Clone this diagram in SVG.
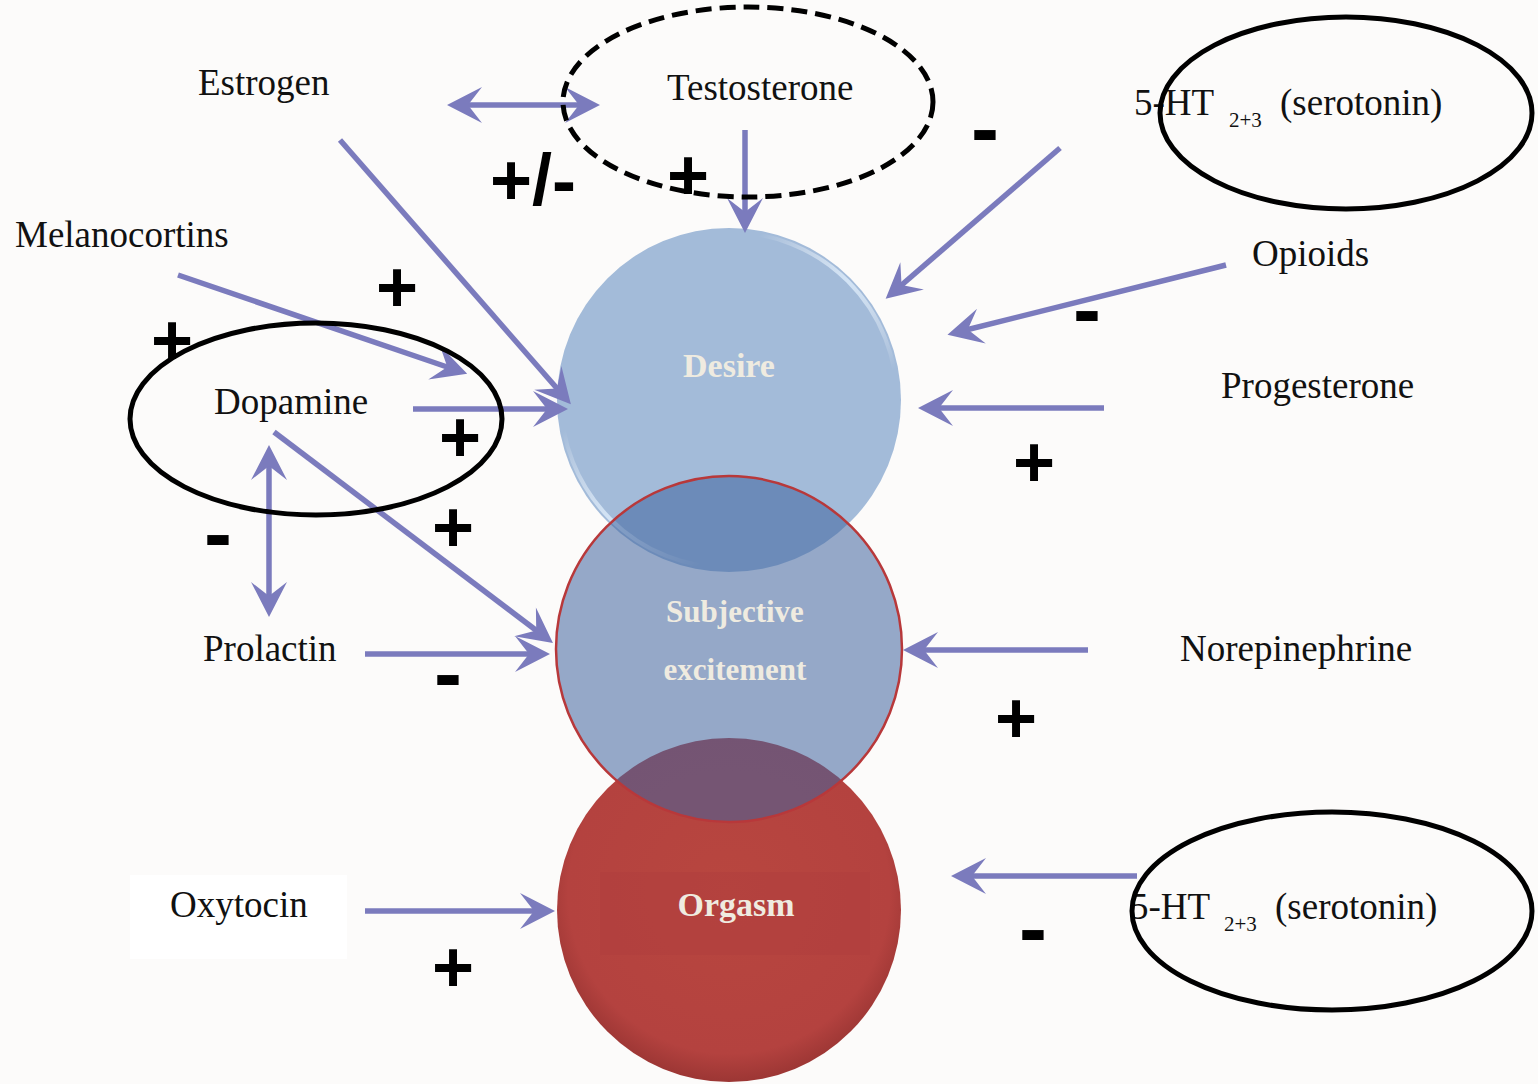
<svg xmlns="http://www.w3.org/2000/svg" width="1538" height="1084" viewBox="0 0 1538 1084">
<style>
.lbl{font-family:"Liberation Serif","DejaVu Serif",serif;font-size:37px;fill:#111}
.sub{font-family:"Liberation Serif","DejaVu Serif",serif;font-size:21px;fill:#111}
.cl{font-family:"Liberation Serif","DejaVu Serif",serif;font-weight:bold;fill:#efebe0;text-anchor:middle}
.plus{font-family:"Liberation Sans","Arial",sans-serif;font-weight:bold;font-size:72px;fill:#000;text-anchor:middle}
.minus{font-family:"Liberation Sans","Arial",sans-serif;font-weight:bold;font-size:84px;fill:#000;text-anchor:middle}
.ell{fill:none;stroke:#000;stroke-width:5}
.con line{stroke:#7b7bbd;stroke-width:5.5;fill:none;marker-end:url(#ah)}
.con line.dbl{marker-start:url(#ah)}
</style>
<defs>
<marker id="ah" markerUnits="userSpaceOnUse" viewBox="-25 -20 45 40" refX="0" refY="0" markerWidth="45" markerHeight="40" orient="auto-start-reverse">
<path d="M15,0 L-20,-18 L-6,0 L-20,18 Z" fill="#7b7bbd"/>
</marker>
<radialGradient id="gOrg" cx="0.5" cy="0.45" r="0.55">
<stop offset="0" stop-color="#b8463f"/>
<stop offset="0.85" stop-color="#b4423f"/>
<stop offset="1" stop-color="#9c3634"/>
</radialGradient>
<linearGradient id="gRim" x1="0" y1="0" x2="1" y2="1">
<stop offset="0.3" stop-color="#ffffff" stop-opacity="0"/>
<stop offset="0.5" stop-color="#d8e8f8" stop-opacity="0.9"/>
<stop offset="0.7" stop-color="#ffffff" stop-opacity="0"/>
</linearGradient>
</defs>
<rect x="0" y="0" width="1538" height="1084" fill="#fcfbfa"/>

<g id="desire">
<circle cx="729" cy="400" r="172" fill="#a3bbd9"/>
<circle cx="729" cy="400" r="168" fill="none" stroke="url(#gRim)" stroke-width="4"/>
<text class="cl" x="729" y="377" font-size="34">Desire</text>
</g>

<g id="orgasm">
<circle cx="729" cy="910" r="172" fill="url(#gOrg)"/>
<rect x="600" y="872" width="270" height="83" fill="#b0403d" opacity="0.6"/>
<text class="cl" x="736" y="916" font-size="34">Orgasm</text>
</g>

<g id="subjective">
<circle cx="729" cy="649" r="173" fill="#3f659f" fill-opacity="0.55" stroke="#b8383a" stroke-width="2.5"/>
<text class="cl" x="735" y="622" font-size="31">Subjective</text>
<text class="cl" x="735" y="680" font-size="31">excitement</text>
</g>

<g id="oxytocin-box">
<rect x="130" y="875" width="217" height="84" fill="#ffffff"/>
</g>

<g id="connectors" class="con">
<line class="dbl" x1="462" y1="105" x2="585" y2="105"/>
<line x1="745" y1="130" x2="745" y2="218"/>
<line x1="340" y1="140" x2="561" y2="393"/>
<line x1="178" y1="275" x2="453" y2="369"/>
<line x1="413" y1="409" x2="553" y2="409"/>
<line x1="274" y1="432" x2="541" y2="634"/>
<line class="dbl" x1="269" y1="460" x2="269" y2="602"/>
<line x1="365" y1="654" x2="535" y2="654"/>
<line x1="365" y1="911" x2="540" y2="911"/>
<line x1="1060" y1="148" x2="897" y2="289"/>
<line x1="1226" y1="265" x2="962" y2="331"/>
<line x1="1104" y1="408" x2="933" y2="408"/>
<line x1="1088" y1="650" x2="918" y2="650"/>
<line x1="1137" y1="876" x2="966" y2="876"/>
</g>

<g id="estrogen"><text class="lbl" x="198" y="95">Estrogen</text></g>
<g id="testosterone">
<ellipse class="ell" cx="748" cy="102" rx="185" ry="95" stroke-dasharray="16 8"/>
<text class="lbl" x="667" y="100">Testosterone</text>
</g>
<g id="serotonin-top">
<text class="lbl" x="1134" y="115">5-HT</text>
<text class="sub" x="1229" y="127">2+3</text>
<text class="lbl" x="1280" y="115">(serotonin)</text>
<ellipse class="ell" cx="1346" cy="113" rx="186" ry="96"/>
</g>
<g id="melanocortins"><text class="lbl" x="15" y="247">Melanocortins</text></g>
<g id="opioids"><text class="lbl" x="1252" y="266">Opioids</text></g>
<g id="dopamine">
<ellipse class="ell" cx="316" cy="419" rx="186" ry="96"/>
<text class="lbl" x="214" y="414">Dopamine</text>
</g>
<g id="progesterone"><text class="lbl" x="1221" y="398">Progesterone</text></g>
<g id="prolactin"><text class="lbl" x="203" y="661">Prolactin</text></g>
<g id="norepinephrine"><text class="lbl" x="1180" y="661">Norepinephrine</text></g>
<g id="oxytocin"><text class="lbl" x="170" y="917">Oxytocin</text></g>
<g id="serotonin-bottom">
<text class="lbl" x="1130" y="919">5-HT</text>
<text class="sub" x="1224" y="931">2+3</text>
<text class="lbl" x="1275" y="919">(serotonin)</text>
<ellipse class="ell" cx="1332" cy="911" rx="200" ry="99"/>
</g>

<g id="signs">
<text class="plus" x="533" y="205">+/-</text>
<text class="plus" x="688" y="200">+</text>
<text class="minus" x="985" y="157">-</text>
<text class="plus" x="397" y="312">+</text>
<text class="plus" x="172" y="365">+</text>
<text class="plus" x="460" y="462">+</text>
<text class="plus" x="453" y="552">+</text>
<text class="minus" x="218" y="562">-</text>
<text class="minus" x="448" y="702">-</text>
<text class="plus" x="453" y="992">+</text>
<text class="minus" x="1087" y="338">-</text>
<text class="plus" x="1034" y="487">+</text>
<text class="plus" x="1016" y="743">+</text>
<text class="minus" x="1033" y="957">-</text>
</g>
</svg>
